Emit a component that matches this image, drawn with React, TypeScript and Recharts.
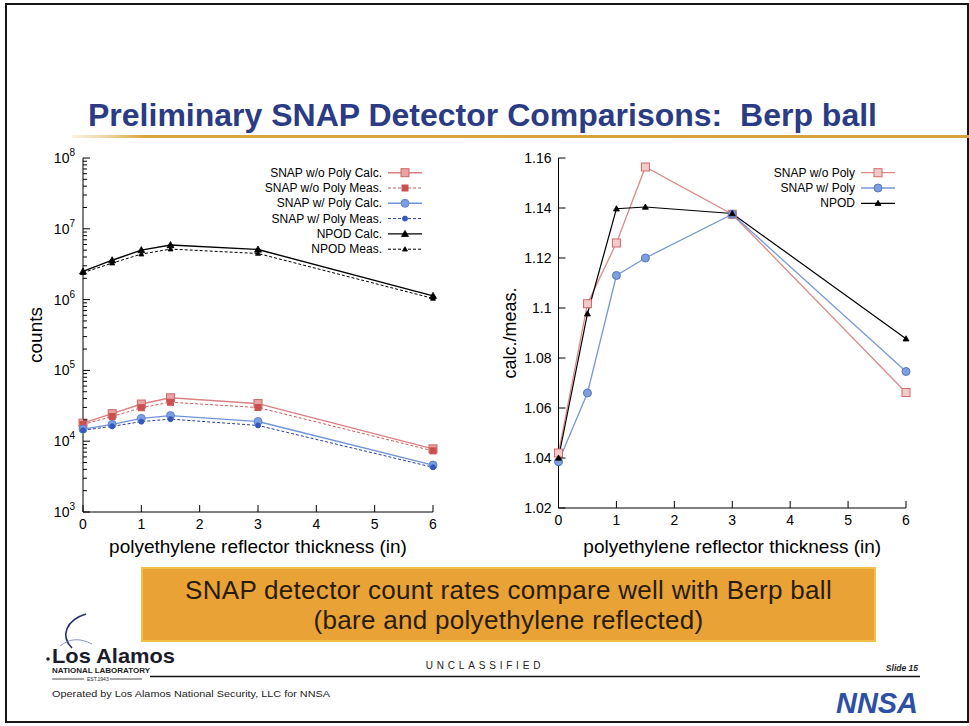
import React from "react";
import { LineChart, Line, XAxis, YAxis, Legend } from "recharts";

const FONT = '"Liberation Sans", Arial, Helvetica, sans-serif';

// reflector thickness (in)
const thickness = [0, 0.5, 1, 1.5, 3, 6];
const xTicks = [0, 1, 2, 3, 4, 5, 6];

// counts (left panel)
const snapNoPolyCalc = [1.8e4, 2.45e4, 3.35e4, 4.1e4, 3.4e4, 7.8e3];
const snapNoPolyMeas = [1.73e4, 2.23e4, 2.97e4, 3.55e4, 2.99e4, 7.3e3];
const snapPolyCalc = [1.48e4, 1.73e4, 2.1e4, 2.3e4, 1.9e4, 4.6e3];
const snapPolyMeas = [1.43e4, 1.62e4, 1.89e4, 2.05e4, 1.67e4, 4.28e3];
const npodCalc = [2.5e6, 3.6e6, 5.0e6, 5.9e6, 5.1e6, 1.13e6];
const npodMeas = [2.4e6, 3.28e6, 4.39e6, 5.17e6, 4.48e6, 1.04e6];

const decades = [1e3, 1e4, 1e5, 1e6, 1e7, 1e8];
const minorSteps = [2, 3, 4, 5, 6, 7, 8, 9];

// calc./meas. (right panel)
const ratioNoPoly = [1.042, 1.1017, 1.126, 1.1564, 1.1375, 1.0662];
const ratioPoly = [1.0385, 1.066, 1.113, 1.12, 1.1375, 1.0746];
const ratioNpod = [1.04, 1.0977, 1.1397, 1.1404, 1.1378, 1.0877];
const ratioTicks = [1.02, 1.04, 1.06, 1.08, 1.1, 1.12, 1.14, 1.16];

const countsData = thickness.map((x, i) => ({
  x,
  noPolyCalc: snapNoPolyCalc[i],
  noPolyMeas: snapNoPolyMeas[i],
  polyCalc: snapPolyCalc[i],
  polyMeas: snapPolyMeas[i],
  npodCalc: npodCalc[i],
  npodMeas: npodMeas[i],
}));

const ratioData = thickness.map((x, i) => ({
  x,
  noPoly: ratioNoPoly[i],
  poly: ratioPoly[i],
  npod: ratioNpod[i],
}));

const logTicks: number[] = [];
decades.forEach((d, i) => {
  logTicks.push(d);
  if (i < decades.length - 1) minorSteps.forEach((m) => logTicks.push(d * m));
});

type Series = {
  key: string;
  name: string;
  color: string;
  width: number;
  dash?: string;
  shape: "square" | "circle" | "triangle";
  size: number;
  fill: string;
  stroke: string;
};

const countSeries: Series[] = [
  { key: "noPolyCalc", name: "SNAP w/o Poly Calc.", color: "#d98080", width: 1.4, shape: "square", size: 8, fill: "#e8a4a4", stroke: "#cc6666" },
  { key: "noPolyMeas", name: "SNAP w/o Poly Meas.", color: "#c86060", width: 1, dash: "3 2", shape: "square", size: 6, fill: "#cc5050", stroke: "#cc5050" },
  { key: "polyCalc", name: "SNAP w/ Poly Calc.", color: "#6f93d9", width: 1.4, shape: "circle", size: 8, fill: "#7a9ee0", stroke: "#5f84d0" },
  { key: "polyMeas", name: "SNAP w/ Poly Meas.", color: "#2a409a", width: 1, dash: "3 2", shape: "circle", size: 5, fill: "#3558c0", stroke: "#3558c0" },
  { key: "npodCalc", name: "NPOD Calc.", color: "#000", width: 1.4, shape: "triangle", size: 7, fill: "#000", stroke: "#000" },
  { key: "npodMeas", name: "NPOD Meas.", color: "#000", width: 1, dash: "3 2", shape: "triangle", size: 5, fill: "#000", stroke: "#000" },
];

const ratioSeries: Series[] = [
  { key: "noPoly", name: "SNAP w/o Poly", color: "#dc8a8a", width: 1.3, shape: "square", size: 8, fill: "#f2caca", stroke: "#d06a6a" },
  { key: "poly", name: "SNAP w/ Poly", color: "#7898d8", width: 1.3, shape: "circle", size: 8, fill: "#7f9edc", stroke: "#5576c4" },
  { key: "npod", name: "NPOD", color: "#000", width: 1.2, shape: "triangle", size: 6, fill: "#000", stroke: "#000" },
];

const Marker = ({ cx, cy, s }: { cx?: number; cy?: number; s: Series }) => {
  if (cx == null || cy == null) return null;
  const h = s.size / 2;
  if (s.shape === "square")
    return <rect x={cx - h} y={cy - h} width={s.size} height={s.size} fill={s.fill} stroke={s.stroke} strokeWidth={1} />;
  if (s.shape === "circle")
    return <circle cx={cx} cy={cy} r={h} fill={s.fill} stroke={s.stroke} strokeWidth={1} />;
  return (
    <polygon
      points={`${cx},${cy - h} ${cx - h},${cy + h * 0.75} ${cx + h},${cy + h * 0.75}`}
      fill={s.fill}
      stroke={s.stroke}
      strokeWidth={0.8}
    />
  );
};

const renderLine = (s: Series) => (
  <Line
    key={s.key}
    dataKey={s.key}
    name={s.name}
    stroke={s.color}
    strokeWidth={s.width}
    strokeDasharray={s.dash}
    isAnimationActive={false}
    activeDot={false}
    dot={(p: any) => <Marker key={`${s.key}-${p.index}`} cx={p.cx} cy={p.cy} s={s} />}
  />
);

// legend drawn gnuplot style: text right-aligned, sample line + marker on the right
const LegendBox = ({ items, textEnd, w, h }: { items: Series[]; textEnd: number; w: number; h: number }) => (
  <svg width={w} height={h} style={{ display: "block" }}>
    {items.map((s, i) => {
      const y = 12.7 + i * 15.3;
      const x1 = textEnd + 6;
      const x2 = textEnd + 40;
      return (
        <g key={s.key}>
          <text x={textEnd} y={y + 4} textAnchor="end" fontSize={12} fontFamily={FONT} fill="#000">
            {s.name}
          </text>
          <line x1={x1} x2={x2} y1={y} y2={y} stroke={s.color} strokeWidth={s.width} strokeDasharray={s.dash} />
          <Marker cx={(x1 + x2) / 2} cy={y} s={s} />
        </g>
      );
    })}
  </svg>
);

const M = 7;

const LogTick = (p: any) => {
  const { x, y, payload, side } = p;
  const v = payload.value;
  const exp = Math.round(Math.log10(v));
  const major = Math.abs(v - Math.pow(10, exp)) < v * 1e-6;
  const len = major ? 7 : 4;
  if (side === "right") {
    const ax = x - M;
    return <line x1={ax} x2={ax - len} y1={y} y2={y} stroke="#000" strokeWidth={1} />;
  }
  const ax = x + M;
  return (
    <g>
      <line x1={ax} x2={ax + len} y1={y} y2={y} stroke="#000" strokeWidth={1} />
      {major && (
        <text x={x - 1} y={y + 5} textAnchor="end" fontSize={14} fontFamily={FONT} fill="#000">
          10<tspan dy={-7} fontSize={10}>{exp}</tspan>
        </text>
      )}
    </g>
  );
};

const LinTick = (p: any) => {
  const { x, y, payload, side } = p;
  if (side === "right") {
    const ax = x - M;
    return <line x1={ax} x2={ax - 7} y1={y} y2={y} stroke="#000" strokeWidth={1} />;
  }
  const ax = x + M;
  const label = String(Number(payload.value.toFixed(2)));
  return (
    <g>
      <line x1={ax} x2={ax + 7} y1={y} y2={y} stroke="#000" strokeWidth={1} />
      <text x={x} y={y + 5} textAnchor="end" fontSize={14} fontFamily={FONT} fill="#000">
        {label}
      </text>
    </g>
  );
};

const XTick = (p: any) => {
  const { x, y, payload, side } = p;
  if (side === "top") {
    return <line x1={x} x2={x} y1={y} y2={y + 7} stroke="#000" strokeWidth={1} />;
  }
  const ay = y - 6;
  return (
    <g>
      <line x1={x} x2={x} y1={ay} y2={ay - 7} stroke="#000" strokeWidth={1} />
      <text x={x} y={ay + 17} textAnchor="middle" fontSize={14} fontFamily={FONT} fill="#000">
        {payload.value}
      </text>
    </g>
  );
};

const axisLine = { stroke: "#000", strokeWidth: 1 };
const xLabel = "polyethylene reflector thickness (in)";

const CountsChart = () => (
  <LineChart width={460} height={430} data={countsData} margin={{ top: 18, right: 27, bottom: 0, left: 0 }}>
    <XAxis
      dataKey="x"
      type="number"
      domain={[0, 6]}
      ticks={xTicks}
      interval={0}
      height={58}
      tickSize={0}
      tickMargin={6}
      tickLine={false}
      axisLine={axisLine}
      tick={(p: any) => <XTick {...p} side="bottom" />}
      label={{ value: xLabel, position: "insideBottom", offset: 17, fontSize: 19, fill: "#000", fontFamily: FONT }}
    />
    <XAxis
      xAxisId="top"
      orientation="top"
      dataKey="x"
      type="number"
      domain={[0, 6]}
      ticks={xTicks}
      interval={0}
      height={0}
      tickSize={0}
      tickMargin={0}
      tickLine={false}
      axisLine={axisLine}
      tick={(p: any) => <XTick {...p} side="top" />}
    />
    <YAxis
      type="number"
      scale="log"
      domain={[1e3, 1e8]}
      allowDataOverflow
      ticks={logTicks}
      interval={0}
      width={83}
      tickSize={0}
      tickMargin={M}
      tickLine={false}
      axisLine={axisLine}
      tick={(p: any) => <LogTick {...p} side="left" />}
      label={{ value: "counts", angle: -90, position: "insideLeft", offset: 35, fontSize: 19, fill: "#000", fontFamily: FONT, style: { textAnchor: "middle" } }}
    />
    <YAxis
      yAxisId="right"
      orientation="right"
      type="number"
      scale="log"
      domain={[1e3, 1e8]}
      allowDataOverflow
      ticks={logTicks}
      interval={0}
      width={0}
      tickSize={0}
      tickMargin={M}
      tickLine={false}
      axisLine={axisLine}
      tick={(p: any) => <LogTick {...p} side="right" />}
    />
    <Legend
      layout="vertical"
      align="center"
      verticalAlign="middle"
      wrapperStyle={{ left: 230, top: 20, width: 200, height: 100 }}
      content={() => <LegendBox items={countSeries} textEnd={152} w={200} h={100} />}
    />
    {countSeries.map(renderLine)}
  </LineChart>
);

const RatioChart = () => (
  <LineChart width={470} height={430} data={ratioData} margin={{ top: 18, right: 34, bottom: 0, left: 0 }}>
    <XAxis
      dataKey="x"
      type="number"
      domain={[0, 6]}
      ticks={xTicks}
      interval={0}
      height={62}
      tickSize={0}
      tickMargin={6}
      tickLine={false}
      axisLine={axisLine}
      tick={(p: any) => <XTick {...p} side="bottom" />}
      label={{ value: xLabel, position: "insideBottom", offset: 17, fontSize: 19, fill: "#000", fontFamily: FONT }}
    />
    <XAxis
      xAxisId="top"
      orientation="top"
      dataKey="x"
      type="number"
      domain={[0, 6]}
      ticks={xTicks}
      interval={0}
      height={0}
      tickSize={0}
      tickMargin={0}
      tickLine={false}
      axisLine={axisLine}
      tick={(p: any) => <XTick {...p} side="top" />}
    />
    <YAxis
      type="number"
      domain={[1.02, 1.16]}
      allowDataOverflow
      ticks={ratioTicks}
      interval={0}
      width={88.5}
      tickSize={0}
      tickMargin={M}
      tickLine={false}
      axisLine={axisLine}
      tick={(p: any) => <LinTick {...p} side="left" />}
      label={{ value: "calc./meas.", angle: -90, position: "insideLeft", offset: 40, fontSize: 18, fill: "#000", fontFamily: FONT, style: { textAnchor: "middle" } }}
    />
    <YAxis
      yAxisId="right"
      orientation="right"
      type="number"
      domain={[1.02, 1.16]}
      allowDataOverflow
      ticks={ratioTicks}
      interval={0}
      width={0}
      tickSize={0}
      tickMargin={M}
      tickLine={false}
      axisLine={axisLine}
      tick={(p: any) => <LinTick {...p} side="right" />}
    />
    <Legend
      layout="vertical"
      align="center"
      verticalAlign="middle"
      wrapperStyle={{ left: 270, top: 20, width: 170, height: 52 }}
      content={() => <LegendBox items={ratioSeries} textEnd={115} w={170} h={52} />}
    />
    {ratioSeries.map(renderLine)}
  </LineChart>
);

const SlideChrome = () => (
  <svg width={969} height={726} style={{ position: "absolute", left: 0, top: 0 }}>
    <defs>
      <linearGradient id="gold" x1="0" x2="1" y1="0" y2="0">
        <stop offset="0" stopColor="#e8c070" stopOpacity={0.2} />
        <stop offset="0.08" stopColor="#d9a640" />
        <stop offset="1" stopColor="#d8a23c" />
      </linearGradient>
    </defs>
    <text x={88} y={126} fontSize={31} fontWeight="bold" fill="#2b3b85" fontFamily={FONT} textLength={789} lengthAdjust="spacingAndGlyphs" style={{ whiteSpace: "pre" }}>
      Preliminary SNAP Detector Comparisons:  Berp ball
    </text>
    <rect x={72} y={135} width={897} height={3} fill="url(#gold)" />

    {/* Los Alamos logo */}
    <path d="M 72 648 C 60 636, 66 620, 86 614" stroke="#24306a" strokeWidth={1.6} fill="none" />
    <path d="M 60 646 C 70 638, 80 638, 92 644" stroke="#6a7ab0" strokeWidth={0.8} fill="none" />
    <circle cx={48} cy={659} r={1.8} fill="#222" />
    <text x={52} y={663} fontSize={21} fontWeight="bold" fill="#1b1b2b" fontFamily={FONT} textLength={123} lengthAdjust="spacingAndGlyphs">
      Los Alamos
    </text>
    <text x={52} y={673} fontSize={6.5} fontWeight="bold" fill="#222" fontFamily={FONT} textLength={98} lengthAdjust="spacingAndGlyphs">
      NATIONAL LABORATORY
    </text>
    <line x1={52} x2={84} y1={679} y2={679} stroke="#222" strokeWidth={0.8} />
    <text x={87} y={681} fontSize={5} fill="#222" fontFamily={FONT}>
      EST.1943
    </text>
    <line x1={110} x2={142} y1={679} y2={679} stroke="#222" strokeWidth={0.8} />

    <text x={485} y={669} textAnchor="middle" fontSize={10} fill="#222" fontFamily={FONT} letterSpacing={3.8}>
      UNCLASSIFIED
    </text>
    <text x={918} y={671} textAnchor="end" fontSize={8.5} fontStyle="italic" fontWeight="bold" fill="#222" fontFamily={FONT}>
      Slide 15
    </text>
    <line x1={150} x2={920} y1={676.5} y2={676.5} stroke="#111" strokeWidth={1.5} />
    <text x={52} y={697} fontSize={8.5} fill="#222" fontFamily={FONT} textLength={278} lengthAdjust="spacingAndGlyphs">
      Operated by Los Alamos National Security, LLC for NNSA
    </text>
    <text x={836} y={713} fontSize={30} fontStyle="italic" fontWeight="bold" fill="#2d4fa6" fontFamily={FONT} textLength={82} lengthAdjust="spacingAndGlyphs">
      NNSA
    </text>
  </svg>
);

export default function App() {
  return (
    <div style={{ position: "absolute", left: 0, top: 0, width: 969, height: 726, background: "#fff", overflow: "hidden", fontFamily: FONT }}>
      <div style={{ position: "absolute", left: 5, top: 3, width: 960, height: 716, border: "2px solid #161616" }} />
      <SlideChrome />
      <div style={{ position: "absolute", left: 0, top: 140 }}>
        <CountsChart />
      </div>
      <div style={{ position: "absolute", left: 470, top: 140 }}>
        <RatioChart />
      </div>
      <div
        style={{
          position: "absolute",
          left: 141,
          top: 567,
          width: 735,
          height: 75,
          background: "#e9a236",
          border: "2px solid #f2c048",
          textAlign: "center",
          fontSize: 26,
          letterSpacing: 0.3,
          lineHeight: "30px",
          color: "#2a1c0c",
          paddingTop: 6,
          boxSizing: "border-box",
        }}
      >
        SNAP detector count rates compare well with Berp ball
        <br />
        (bare and polyethylene reflected)
      </div>
    </div>
  );
}
